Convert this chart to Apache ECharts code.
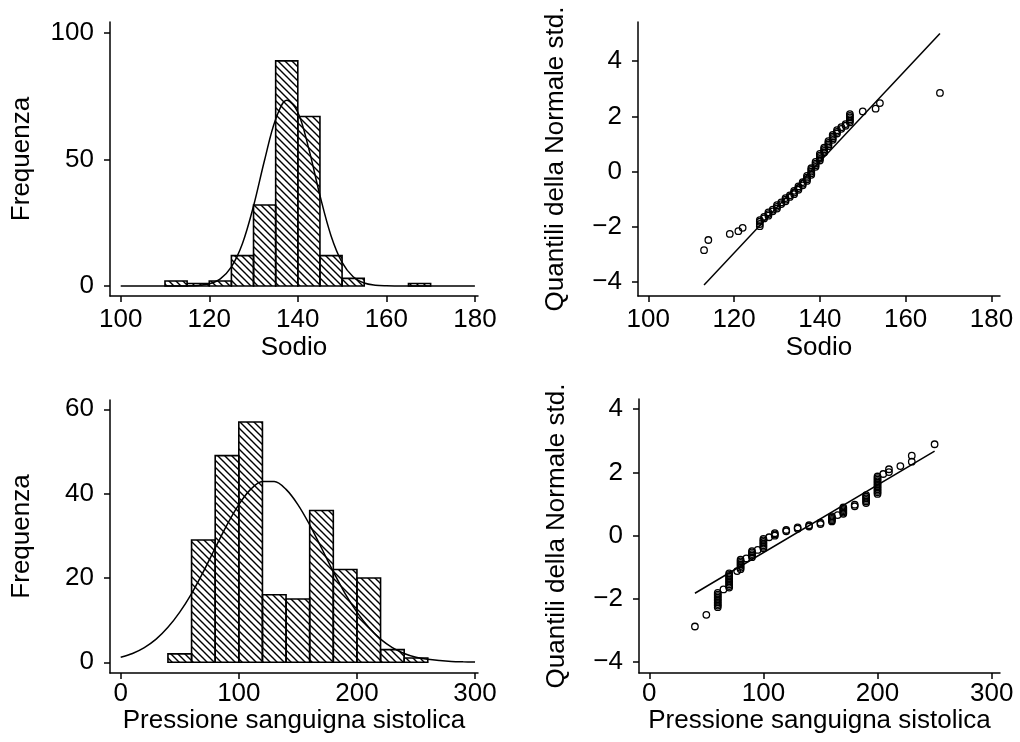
<!DOCTYPE html>
<html><head><meta charset="utf-8">
<script src="https://cdn.jsdelivr.net/npm/echarts@6/dist/echarts.min.js"></script>
<style>html,body{margin:0;padding:0;background:#fff}#main{width:1020px;height:742px}</style>
</head><body><div id="main"></div>
<script>
// ---------- DATA ----------
var sodioBinStart = [110, 115, 120, 125, 130, 135, 140, 145, 150, 165];
var sodioBinEnd   = [115, 120, 125, 130, 135, 140, 145, 150, 155, 170];
var sodioCounts   = [2, 1, 2, 12, 32, 89, 67, 12, 3, 1];
var sodioCurveX = [100,102.5,105,107.5,110,112.5,115,117.5,120,122.5,125,127.5,130,132.5,135,137.5,140,142.5,145,147.5,150,152.5,155,157.5,160,162.5,165,167.5,170,172.5,175,177.5,180];
var sodioCurveY = [0,0,0,0,0,0.01,0.05,0.24,0.9,2.85,7.55,16.8,31.6,49.8,65.9,73.4,68.7,54.1,35.8,19.9,9.3,3.65,1.2,0.34,0.08,0.02,0,0,0,0,0,0,0];
var sodioQQ = [
 [113,-2.85],[114,-2.48],[119,-2.26],[121,-2.16],[122,-2.04],
 [126,-1.98],[126,-1.90],[126,-1.82],[126,-1.76],
 [127,-1.70],[127,-1.64],
 [128,-1.60],[128,-1.54],[128,-1.48],
 [129,-1.44],[129,-1.38],
 [130,-1.34],[130,-1.28],[130,-1.22],
 [131,-1.18],[131,-1.12],
 [132,-1.08],[132,-1.02],[132,-0.96],
 [133,-0.92],[133,-0.86],
 [134,-0.82],[134,-0.76],[134,-0.70],
 [135,-0.66],[135,-0.60],[135,-0.54],
 [136,-0.50],[136,-0.44],[136,-0.38],
 [137,-0.34],[137,-0.28],[137,-0.22],[137,-0.16],
 [138,-0.12],[138,-0.06],[138,0.00],[138,0.06],[138,0.12],
 [139,0.17],[139,0.23],[139,0.29],[139,0.35],
 [140,0.40],[140,0.46],[140,0.52],[140,0.58],[140,0.64],
 [141,0.69],[141,0.75],[141,0.81],[141,0.87],
 [142,0.92],[142,0.98],[142,1.04],[142,1.10],
 [143,1.15],[143,1.21],[143,1.27],[143,1.33],
 [144,1.38],[144,1.44],[144,1.50],
 [145,1.55],[145,1.61],
 [146,1.66],[146,1.72],
 [147,1.78],[147,1.84],[147,1.90],[147,1.96],[147,2.02],[147,2.08],
 [150,2.18],[153,2.28],[154,2.48],[168,2.85]
];
var sodioRefLine = [[113,-4.11],[168,5.0]];

var pressBinStart = [40, 60, 80, 100, 120, 140, 160, 180, 200, 220, 240];
var pressBinEnd   = [60, 80, 100, 120, 140, 160, 180, 200, 220, 240, 260];
var pressCounts   = [2, 29, 49, 57, 16, 15, 36, 22, 20, 3, 1];
var pressCurveX = [0,10,20,30,40,50,60,70,80,90,100,110,120,130,140,150,160,170,180,190,200,210,220,230,240,250,260,270,280,290,300];
var pressCurveY = [1.2,2.1,3.5,5.5,8.3,11.9,16.3,21.5,27.1,32.6,37.4,41.0,42.9,42.9,41.0,37.4,32.6,27.1,21.5,16.3,11.9,8.3,5.5,3.5,2.1,1.2,0.7,0.4,0.2,0.1,0.04];
var pressQQ = [
 [40,-2.87],[50,-2.50],
 [60,-2.26],[60,-2.21],[60,-2.16],[60,-2.11],[60,-2.06],[60,-2.01],[60,-1.96],[60,-1.91],[60,-1.86],[60,-1.81],
 [65,-1.70],
 [70,-1.64],[70,-1.59],[70,-1.54],[70,-1.49],[70,-1.44],[70,-1.39],[70,-1.34],[70,-1.29],[70,-1.24],[70,-1.19],
 [77,-1.12],
 [80,-1.06],[80,-1.01],[80,-0.96],[80,-0.91],[80,-0.86],[80,-0.81],[80,-0.76],
 [85,-0.72],
 [90,-0.68],[90,-0.63],[90,-0.58],[90,-0.53],[90,-0.49],
 [95,-0.45],
 [100,-0.40],[100,-0.35],[100,-0.30],[100,-0.25],[100,-0.20],[100,-0.15],[100,-0.10],
 [105,-0.05],
 [110,0.00],[110,0.04],[110,0.08],
 [120,0.14],[120,0.18],
 [130,0.22],[130,0.26],
 [140,0.29],[140,0.33],
 [150,0.37],[150,0.41],
 [160,0.45],[160,0.49],[160,0.53],[160,0.57],[160,0.61],
 [165,0.65],
 [170,0.69],[170,0.73],[170,0.77],[170,0.81],[170,0.85],[170,0.89],
 [180,0.93],[180,0.98],
 [190,1.03],[190,1.08],[190,1.13],[190,1.18],[190,1.23],[190,1.28],
 [200,1.32],[200,1.37],[200,1.42],[200,1.47],[200,1.52],[200,1.57],[200,1.62],[200,1.67],[200,1.72],[200,1.77],[200,1.82],[200,1.87],
 [205,1.95],[210,2.01],[210,2.10],[220,2.20],[230,2.34],[230,2.53],[250,2.89]
];
var pressRefLine = [[40,-1.82],[250,2.67]];

var sodioTicks = [100, 120, 140, 160, 180];
var freqTopTicks = [0, 50, 100];
var quantTicks = [-4, -2, 0, 2, 4];
var pressTicks = [0, 100, 200, 300];
var freqBottomTicks = [0, 20, 40, 60];

// ---------- RENDER ----------
var FONT = 'Liberation Sans, Arial, Helvetica, sans-serif';
var FS = 26;

function makeHatch() {
  var s = 7, c = document.createElement('canvas');
  c.width = s; c.height = s;
  var g = c.getContext('2d');
  g.strokeStyle = '#000'; g.lineWidth = 1.4;
  g.beginPath();
  g.moveTo(-1, -1); g.lineTo(s + 1, s + 1);
  g.moveTo(s - 1, -1); g.lineTo(s + 1, 1);
  g.moveTo(-1, s - 1); g.lineTo(1, s + 1);
  g.stroke();
  return c;
}
var hatch = makeHatch();

function minusFmt(v) { return String(v).replace('-', '\u2212'); }

function axisBase(ticks) {
  return {
    type: 'value',
    axisLine: { show: true, onZero: false, lineStyle: { color: '#000', width: 1.5 } },
    axisTick: { show: true, length: 6, customValues: ticks, lineStyle: { color: '#000', width: 1.5 } },
    axisLabel: { customValues: ticks, color: '#000', fontFamily: FONT, fontSize: FS, formatter: minusFmt, margin: 11 },
    splitLine: { show: false },
    nameLocation: 'middle',
    nameTextStyle: { color: '#000', fontFamily: FONT, fontSize: FS }
  };
}
function xAx(grid, min, max, ticks, name, lblMargin, gap) {
  var a = axisBase(ticks);
  a.gridIndex = grid; a.min = min; a.max = max; a.name = name; a.nameGap = gap;
  a.axisLabel.margin = lblMargin;
  return a;
}
function yAx(grid, min, max, ticks, name, gap) {
  var a = axisBase(ticks);
  a.gridIndex = grid; a.min = min; a.max = max; a.name = name; a.nameGap = gap;
  a.axisLabel.margin = 16;
  return a;
}

function histSeries(axis, starts, ends, counts) {
  var data = [];
  for (var i = 0; i < starts.length; i++) data.push([starts[i], ends[i], counts[i]]);
  return {
    type: 'custom', xAxisIndex: axis, yAxisIndex: axis, data: data,
    encode: { x: [0, 1], y: 2 },
    renderItem: function (params, api) {
      var p0 = api.coord([api.value(0), api.value(2)]);
      var p1 = api.coord([api.value(1), 0]);
      return {
        type: 'rect',
        shape: { x: p0[0], y: p0[1], width: p1[0] - p0[0], height: p1[1] - p0[1] },
        style: { fill: { image: hatch, repeat: 'repeat' }, stroke: '#000', lineWidth: 1.6 }
      };
    },
    z: 2
  };
}
function curveSeries(axis, xs, ys) {
  var d = xs.map(function (x, i) { return [x, ys[i]]; });
  return { type: 'line', xAxisIndex: axis, yAxisIndex: axis, data: d, smooth: 0.35, showSymbol: false,
           lineStyle: { color: '#000', width: 1.5 }, z: 3, silent: true };
}
function qqSeries(axis, pts) {
  return { type: 'scatter', xAxisIndex: axis, yAxisIndex: axis, data: pts, symbol: 'circle', symbolSize: 6.5,
           itemStyle: { color: 'rgba(255,255,255,0)', borderColor: '#000', borderWidth: 1.3, opacity: 1 }, z: 3 };
}
function refSeries(axis, pts) {
  return { type: 'line', xAxisIndex: axis, yAxisIndex: axis, data: pts, showSymbol: false,
           lineStyle: { color: '#000', width: 1.5 }, z: 2, silent: true };
}

var chart = echarts.init(document.getElementById('main'), null, { renderer: 'canvas' });
chart.setOption({
  backgroundColor: '#fff',
  animation: false,
  grid: [
    { left: 110, top: 22, width: 368, height: 274 },
    { left: 638, top: 22, width: 362, height: 274 },
    { left: 110, top: 400, width: 368, height: 273 },
    { left: 639, top: 399, width: 361, height: 274 }
  ],
  xAxis: [
    xAx(0, 97.58, 180.7, sodioTicks, 'Sodio', 11, 39),
    xAx(1, 97.6, 182.0, sodioTicks, 'Sodio', 11, 39),
    xAx(2, -9.06, 302.5, pressTicks, 'Pressione sanguigna sistolica', 8, 34),
    xAx(3, -9.0, 307.3, pressTicks, 'Pressione sanguigna sistolica', 8, 34)
  ],
  yAxis: [
    yAx(0, -3.95, 104.35, freqTopTicks, 'Frequenza', 75),
    yAx(1, -4.51, 5.42, quantTicks, 'Quantili della Normale std.', 69),
    yAx(2, -2.54, 62.2, freqBottomTicks, 'Frequenza', 75),
    yAx(3, -4.34, 4.32, quantTicks, 'Quantili della Normale std.', 69)
  ],
  series: [
    histSeries(0, sodioBinStart, sodioBinEnd, sodioCounts),
    curveSeries(0, sodioCurveX, sodioCurveY),
    refSeries(1, sodioRefLine),
    qqSeries(1, sodioQQ),
    histSeries(2, pressBinStart, pressBinEnd, pressCounts),
    curveSeries(2, pressCurveX, pressCurveY),
    refSeries(3, pressRefLine),
    qqSeries(3, pressQQ)
  ]
});
</script>
</body></html>
